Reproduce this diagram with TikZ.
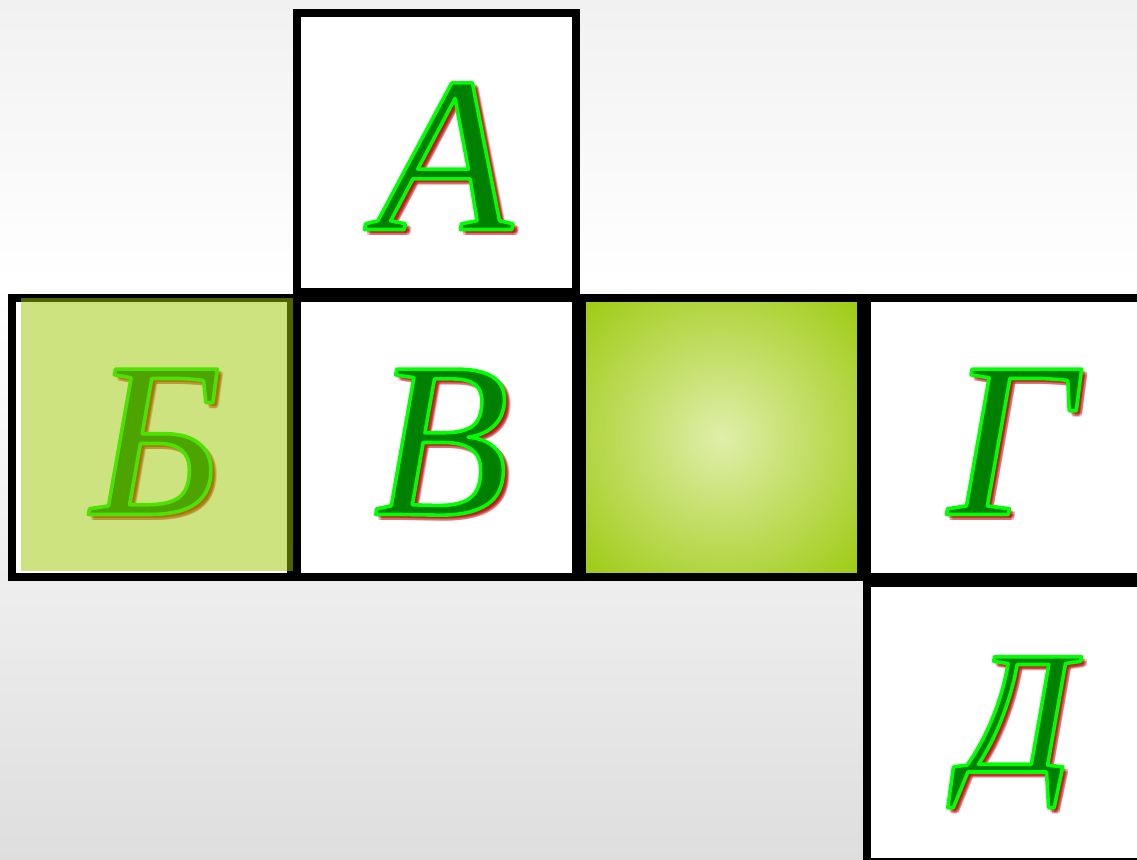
\documentclass[tikz,border=0pt]{standalone}
\usepackage{fontspec}
\setmainfont{Liberation Serif}
\usepackage{tikz}
\usetikzlibrary{positioning}

\definecolor{bgtop}{HTML}{F1F1F1}
\definecolor{bgbottom}{HTML}{DEDEDE}
\definecolor{limecenter}{RGB}{224,238,170}
\definecolor{limeedge}{RGB}{156,202,16}
\definecolor{veilgreen}{RGB}{154,200,0}
\definecolor{glyphgreen}{RGB}{0,128,0}
\definecolor{shadowred}{RGB}{185,0,0}

\pgfdeclareverticalshading{slidebg}{100bp}{color(0bp)=(bgbottom); color(25bp)=(bgbottom); color(58.7bp)=(white); color(75bp)=(bgtop); color(100bp)=(bgtop)}
\pgfdeclareradialshading{lime}{\pgfpoint{0bp}{0bp}}{color(0bp)=(limecenter); color(35.4bp)=(limeedge); color(50bp)=(limeedge)}

% bright green stroke round the glyphs (fill + stroke render mode)
\newcommand\greenedge{\special{pdf:literal direct 0 0.502 0 rg 0 1 0 RG 2 Tr 1.8 w 1 j}}

\tikzset{
  cell/.style={draw=black, line width=4pt, fill=white, minimum size=139.5pt, inner sep=0pt, outer sep=0pt},
  letter/.style={anchor=base, inner sep=0pt, xshift=2.5pt, yshift=-38.5pt, font=\fontsize{111}{112}\selectfont\itshape},
  lettershadow/.style={text=shadowred, text opacity=0.24},
  letterfill/.style={text=glyphgreen},
  veil/.style={fill=veilgreen, fill opacity=0.5}
}

% blurred shadow, then the letter itself
\newcommand\cubeletter[4][]{%
  \foreach \dx/\dy [count=\i] in {2.2/-2.2,3.2/-2.2,1.2/-2.2,2.2/-1.2,2.2/-3.2,2.9/-1.5,1.5/-2.9,2.9/-2.9,1.5/-1.5}
    \node[letter, lettershadow, #1] (#2s\i) at (#3) [xshift=\dx pt, yshift=\dy pt] {#4};
  \node[letter, letterfill, #1] (#2) at (#3) {\greenedge#4};
}

\begin{document}
\begin{tikzpicture}[x=0.5pt, y=-0.5pt, on grid, node distance=142.5pt]
\useasboundingbox (0,0) rectangle (1137,860);
\clip (0,0) rectangle (1137,860);
\shade[shading=slidebg] (0,0) rectangle (1137,860);

\node[cell] (cellA) at (436.5,152.5) {};
\node[cell] (cellV) [below=of cellA] {};
\node[cell] (cellB) [left=of cellV] {};
\node[cell, shade, shading=lime] (cellE) [right=of cellV] {};
\node[cell] (cellG) [right=of cellE] {};
\node[cell] (cellD) [below=of cellG] {};

\cubeletter[xshift=1.5pt]{lA}{cellA}{А}
\cubeletter{lB}{cellB}{Б}
\fill[veil] (21,298) rectangle (293,571);
\cubeletter{lV}{cellV}{В}
\cubeletter{lG}{cellG}{Г}
\cubeletter[font=\fontsize{88}{88}\selectfont\itshape, xshift=3pt, yshift=13.75pt]{lD}{cellD}{Д}
\end{tikzpicture}
\end{document}
